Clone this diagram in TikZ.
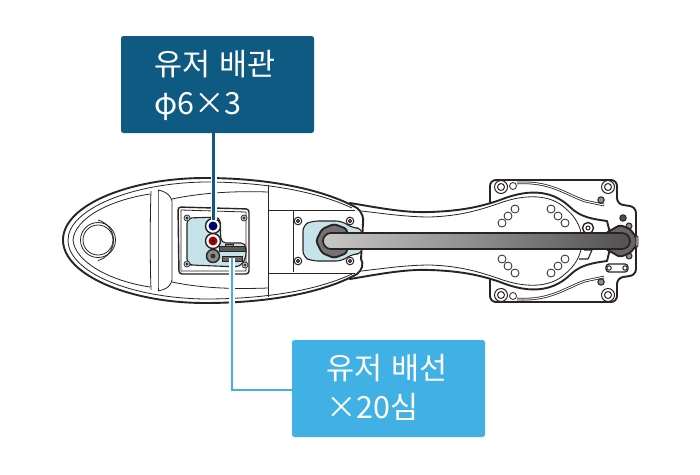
\documentclass[tikz,border=0pt]{standalone}
\usepackage{fontspec}
\setmainfont[WordSpace=1.3]{Noto Sans CJK KR}
\definecolor{pipecol}{HTML}{0F5A82}
\definecolor{wirecol}{HTML}{41B0E4}
\definecolor{panelcol}{HTML}{C5E3E8}
\definecolor{inkcol}{HTML}{2A2223}
\tikzset{
    outline/.style={draw=inkcol, line width=1.9pt, line join=round},
    detail/.style={draw=inkcol, line width=0.8pt, line join=round},
    screw/.style={draw=inkcol, line width=1pt, fill=white},
    labelbox/.style={rounded corners=2.5pt, minimum width=193pt, minimum height=97pt, inner sep=0pt},
    labeltext/.style={white, font=\fontsize{30.5}{39.5}\selectfont, align=left, anchor=north west, inner sep=0pt},
    halo/.style={white, line width=6pt},
}
\begin{document}
\begin{tikzpicture}[x=1pt, y=-1pt]
    \useasboundingbox (0, 0) rectangle (700, 474);

    % Base plate
    \draw [outline, fill=white, rounded corners=6pt] (490, 241) -- (490, 180) -- (617, 180) -- (617, 204)
        -- (636, 207) -- (636, 275) -- (617, 278) -- (617, 302) -- (490, 302) -- cycle;
    \foreach \s in {1, -1} {
        \begin{scope}[shift={(0, 241)}, yscale=\s]
            \draw [detail, double distance=1pt] (517, -58) .. controls (550, -60) and (565, -47) .. (585, -40) -- (604, -36);
            \draw [screw] (501, -54) circle (6.5);
            \draw [screw] (501, -54) circle (3.5);
            \draw [screw] (608, -54) circle (6.5);
            \draw [screw] (608, -54) circle (3.5);
            \draw [screw, fill=black!45] (601, -41) circle (3.2);
            \draw [detail] (513, -55) circle (3.5);
        \end{scope}
    }

    % Arm
    \draw [outline, fill=white] (350, 203) .. controls (380, 208) and (405, 213) .. (430, 212)
        .. controls (460, 211) and (480, 207) .. (500, 200) .. controls (525, 190) and (550, 188) .. (570, 207)
        .. controls (580, 217) and (592, 219) .. (607, 221) -- (612, 241) -- (607, 261)
        .. controls (592, 263) and (580, 265) .. (570, 275) .. controls (550, 294) and (525, 292) .. (500, 282)
        .. controls (480, 275) and (460, 271) .. (430, 270) .. controls (405, 269) and (380, 274) .. (350, 279) -- cycle;
    \foreach \s in {1, -1} {
        \begin{scope}[shift={(0, 241)}, yscale=\s]
            \draw [detail] (353, -31) .. controls (380, -28) and (405, -24) .. (430, -24)
                .. controls (460, -25) and (480, -31) .. (500, -38) .. controls (525, -47) and (550, -47) .. (565, -33)
                .. controls (575, -25) and (580, -15) .. (581, -8);
            \draw [detail] (502, -18) circle (4);
            \draw [detail] (508, -25) circle (4);
            \draw [detail] (515, -32) circle (4);
            \draw [detail] (551, -32) circle (4);
            \draw [detail] (558, -25) circle (4);
            \draw [detail] (565, -18) circle (4);
            \draw [screw, fill=black!45] (629, -15) circle (3);
        \end{scope}
    }
    \draw [screw, fill=black!70] (623, 218) circle (3.2);
    \draw [screw, line width=1.4pt] (588, 228) circle (5.5);
    \draw [screw] (588, 228) circle (2);
    \draw [detail, line width=1.1pt] (584, 250) -- (592, 250) -- (588, 259) -- (579, 259);
    \draw [detail, line width=1.2pt, rounded corners=3pt] (606, 264) rectangle (628, 272);
    \draw [screw] (609, 268) circle (2.2);
    \draw [screw] (625, 268) circle (2.2);

    % Body
    \draw [outline, fill=white] (63, 240) .. controls (63, 205) and (130, 178) .. (205, 178)
        .. controls (270, 178) and (325, 190) .. (357, 208) .. controls (362, 212) and (364, 218) .. (363, 223)
        -- (361, 259) .. controls (364, 264) and (362, 270) .. (357, 274)
        .. controls (325, 292) and (270, 303) .. (205, 303) .. controls (130, 303) and (63, 275) .. (63, 240) -- cycle;
    \draw [detail] (68, 240) .. controls (68, 210) and (130, 183) .. (205, 182)
        .. controls (270, 182) and (320, 193) .. (352, 208);
    \draw [detail] (68, 240) .. controls (68, 272) and (130, 298) .. (205, 299)
        .. controls (270, 299) and (320, 289) .. (352, 274);
    \draw [detail] (73, 240) .. controls (75, 218) and (110, 200) .. (150, 194);
    \draw [detail] (73, 240) .. controls (75, 262) and (110, 281) .. (150, 287);
    \draw [detail] (172, 199) .. controls (205, 192) and (240, 191) .. (268, 192);
    \draw [detail] (172, 282) .. controls (205, 289) and (240, 289) .. (268, 288);
    \draw [detail] (151, 191) .. controls (150, 220) and (150, 262) .. (151, 290);
    \draw [detail] (158, 190) .. controls (158, 220) and (158, 262) .. (158, 291);
    \draw [detail] (158, 190) .. controls (168, 192) and (171, 197) .. (172, 201) -- (172, 280)
        .. controls (171, 285) and (168, 289) .. (158, 291);
    \draw [detail] (268, 185) -- (268, 297);
    \draw [detail] (98, 220) arc (-75:75:21);
    \draw [detail] (98, 240) circle (17.5);
    \draw [detail] (98, 240) circle (15);

    % Port panel
    \draw [outline, line width=1.4pt, rounded corners=3pt] (178, 207) -- (249, 209) -- (249, 274) -- (179, 274) -- cycle;
    \draw [detail] (181, 210) -- (246, 212) -- (246, 271) -- (181, 271) -- cycle;
    \draw [detail, line width=1.1pt, fill=panelcol, rounded corners=5pt] (187, 264) -- (187, 218) -- (220, 217) -- (221, 243)
        -- (246, 243) -- (246, 258) -- (240, 267) -- (191, 265) -- cycle;
    \foreach \px/\py in {187/218, 244/218, 187/264, 245/265} {
        \draw [screw, line width=0.7pt, fill=panelcol] (\px, \py) circle (3);
        \draw [detail] (\px, \py) circle (1.2);
    }
    \node [circle, draw=inkcol, line width=1.4pt, fill=white, minimum size=15pt, inner sep=0pt] (pport) at (213, 226) {};
    \fill [blue!50!black] (213, 226) circle (4.5);
    \fill [black] (213, 226) circle (1.5);
    \draw [draw=inkcol, line width=1.4pt, fill=white] (213, 241) circle (7.5);
    \fill [red!65!black] (213, 241) circle (4.5);
    \fill [black] (213, 241) circle (1.5);
    \draw [draw=inkcol, line width=1.4pt, fill=black!45] (213, 256) circle (6.5);
    \fill [black!80] (213, 256) circle (2.5);
    \draw [detail, fill=black!65] (219, 246) rectangle (245, 251);
    \draw [detail, fill=black!40] (225, 244) rectangle (233, 246);
    \node [draw=inkcol, line width=0.8pt, fill=black!60, minimum width=20pt, minimum height=5pt, inner sep=0pt] (wport) at (232, 258.5) {};

    % Joint panel
    \draw [detail, rounded corners=3pt] (268, 210) -- (355, 210);
    \draw [detail, rounded corners=3pt] (268, 273) -- (355, 273);
    \draw [detail] (293, 211) -- (293, 272);
    \draw [detail, line width=1.1pt, fill=panelcol, rounded corners=6pt] (303, 225) -- (312, 221) -- (342, 221) -- (352, 228)
        -- (362, 228) -- (362, 254) -- (352, 254) -- (342, 261) -- (312, 261) -- (303, 257) -- cycle;
    \foreach \px/\py in {298/221, 350/221, 298/261, 350/261} {
        \draw [screw] (\px, \py) circle (3.8);
        \draw [detail, fill=black!50] (\px, \py) circle (1.8);
    }

    % Joint ends and rod
    \draw [outline, fill=black!55, rounded corners=3pt] (316, 241) -- (322, 229) -- (334, 224) -- (347, 229) -- (347, 253)
        -- (334, 258) -- (322, 253) -- cycle;
    \draw [outline, fill=black!60, rounded corners=2pt] (606, 233) -- (620, 225) -- (630, 229) -- (636, 237) -- (637, 245)
        -- (630, 253) -- (620, 257) -- (606, 249) -- cycle;
    \shade [left color=black!22, right color=black!68, draw=inkcol, line width=1.7pt]
        (331, 233) -- (622, 233) arc (-90:90:8) -- (331, 249) arc (90:270:8) -- cycle;
    \draw [detail, fill=black!25] (636, 235) -- (638, 237) -- (638, 246) -- (636, 248) -- cycle;

    % Labels
    \node [labelbox, fill=pipecol] (pipebox) at (217.5, 84.5) {};
    \node [labeltext] (pipetext) at (154, 50) {유저 배관\\φ6×3};
    \node [labelbox, fill=wirecol] (wirebox) at (388.5, 388.5) {};
    \node [labeltext] (wiretext) at (326, 354) {유저 배선\\×20심};

    % Connectors
    \coordinate (pend) at (213.5, 220);
    \coordinate (wend) at (232, 258);
    \draw [halo] (pipebox.south -| pend) -- (pend);
    \draw [halo] (wirebox.west |- 0, 390) -| (wend);
    \draw [pipecol, line width=2.8pt] (pipebox.south -| pend) -- (pend);
    \draw [wirecol, line width=2.8pt] (wirebox.west |- 0, 390) -| (wend);
\end{tikzpicture}
\end{document}
